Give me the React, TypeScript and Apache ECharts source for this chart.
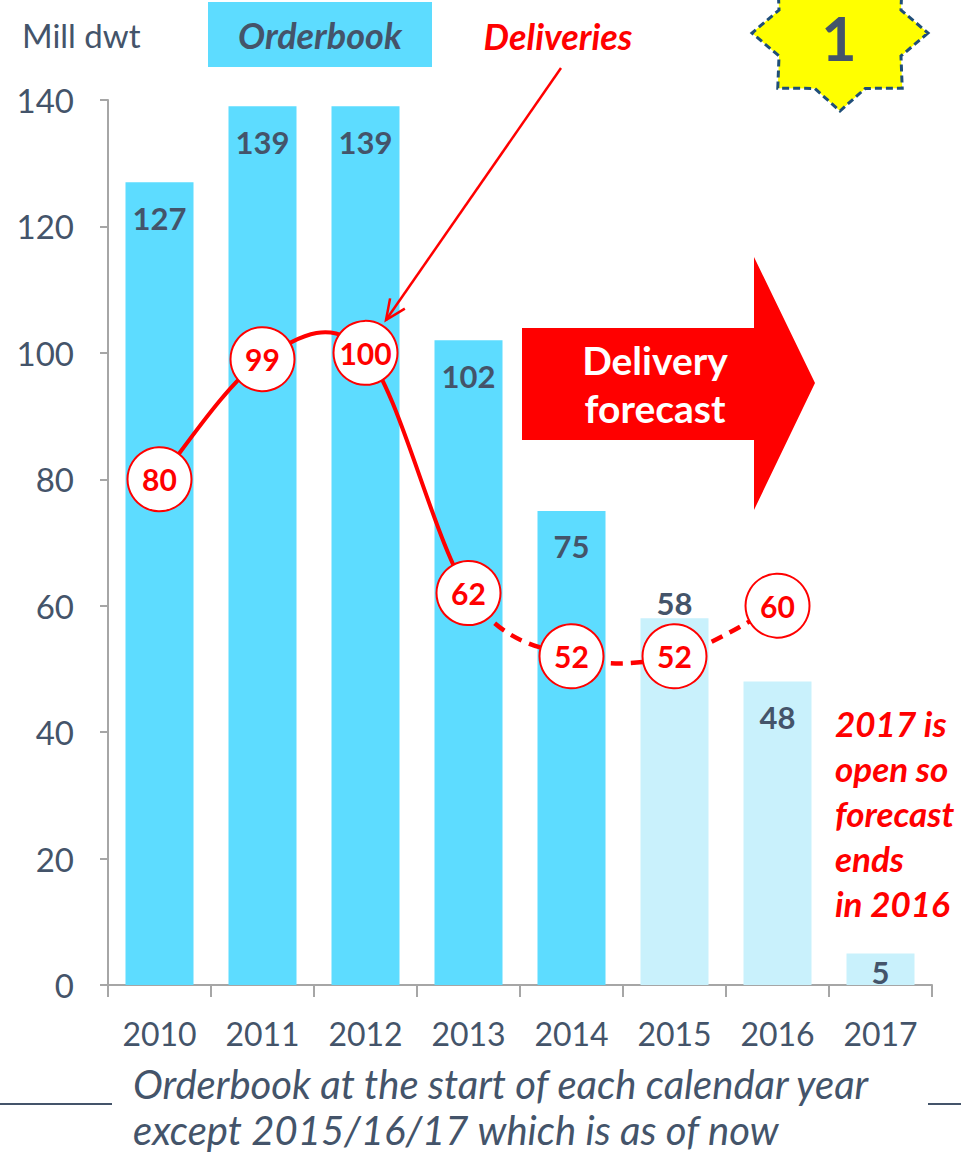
import React, { useEffect, useRef } from "react";
import * as echarts from "echarts";

const categories = ["2010", "2011", "2012", "2013", "2014", "2015", "2016", "2017"];
const orderbook = [127, 139, 139, 102, 75, 58, 48, 5];
const deliveries: (number | null)[] = [80, 99, 100, 62, 52, 52, 60, null];
const lastActualIndex = 3; // solid line up to 2013, dashed forecast after
const firstLightBarIndex = 5; // 2015/16/17 orderbook "as of now"
const yMin = 0;
const yMax = 140;
const yInterval = 20;
const noteLines = ["2017 is", "open so", "forecast", "ends", "in 2016"];
const footnoteLines = ["Orderbook at the start of each calendar year", "except 2015/16/17 which is as of now"];

const SLATE = "#44546A";
const CYAN = "#5DDCFF";
const LIGHT = "#C9F1FC";
const RED = "#FF0000";
const FONT = "Lato";

function starPoints(cx: number, cy: number, rxO: number, ryO: number, rxI: number, ryI: number) {
  const pts: number[][] = [];
  for (let i = 0; i < 16; i++) {
    const a = (Math.PI / 8) * i;
    const outer = i % 2 === 0;
    const rx = outer ? rxO : rxI;
    const ry = outer ? ryO : ryI;
    pts.push([cx + rx * Math.cos(a), cy + ry * Math.sin(a)]);
  }
  return pts;
}

function arrowHead(x1: number, y1: number, x2: number, y2: number, len: number, ang: number) {
  const t = Math.atan2(y2 - y1, x2 - x1);
  return [
    [x2 - len * Math.cos(t - ang), y2 - len * Math.sin(t - ang)],
    [x2, y2],
    [x2 - len * Math.cos(t + ang), y2 - len * Math.sin(t + ang)],
  ];
}

export default function App() {
  const ref = useRef<HTMLDivElement>(null);
  useEffect(() => {
    if (!ref.current) return;
    const chart = echarts.init(ref.current, null, { renderer: "svg", width: 961, height: 1155 });

    const barData = orderbook.map((v, i) => {
      const item: any = {
        value: v,
        itemStyle: { color: i >= firstLightBarIndex ? LIGHT : CYAN },
      };
      if (i === firstLightBarIndex) {
        item.label = { position: "top", distance: 0 };
      } else if (i === orderbook.length - 1) {
        item.label = { position: "insideTop", distance: 3 };
      }
      return item;
    });

    const validIdx = deliveries.map((v, i) => (v == null ? -1 : i)).filter((i) => i >= 0);
    const lastValid = validIdx[validIdx.length - 1];
    const lineData = validIdx.map((i) => [i, deliveries[i]]);

    const renderSegment = (params: any, api: any) => {
      const i = api.value(0) as number;
      if (i >= lastValid) return null;
      const pt = (j: number) => {
        const k = Math.max(0, Math.min(lastValid, j));
        return api.coord([k, deliveries[k]]);
      };
      const p0 = pt(i - 1);
      const p1 = pt(i);
      const p2 = pt(i + 1);
      const p3 = pt(i + 2);
      const cp1 = [p1[0] + (p2[0] - p0[0]) / 6, p1[1] + (p2[1] - p0[1]) / 6];
      const cp2 = [p2[0] - (p3[0] - p1[0]) / 6, p2[1] - (p3[1] - p1[1]) / 6];
      const dashed = i >= lastActualIndex;
      return {
        type: "bezierCurve",
        shape: {
          x1: p1[0],
          y1: p1[1],
          x2: p2[0],
          y2: p2[1],
          cpx1: cp1[0],
          cpy1: cp1[1],
          cpx2: cp2[0],
          cpy2: cp2[1],
        },
        style: {
          stroke: RED,
          lineWidth: dashed ? 4.5 : 4,
          fill: "none",
          lineDash: dashed ? [12, 8] : null,
        },
      };
    };

    const [ax1, ay1, ax2, ay2] = [561, 68, 386, 320];

    const option: any = {
      animation: false,
      textStyle: { fontFamily: FONT },
      grid: { left: 108, right: 29, top: 100, bottom: 170, containLabel: false },
      xAxis: {
        type: "category",
        data: categories,
        axisLine: { lineStyle: { color: "#A6A6A6", width: 2 } },
        axisTick: { show: true, length: 12, lineStyle: { color: "#A6A6A6", width: 2 } },
        axisLabel: { color: SLATE, fontSize: 32, fontFamily: FONT, margin: 32 },
      },
      yAxis: {
        type: "value",
        min: yMin,
        max: yMax,
        interval: yInterval,
        axisLine: { show: true, lineStyle: { color: "#A6A6A6", width: 2 } },
        axisTick: { show: true, length: 8, lineStyle: { color: "#A6A6A6", width: 2 } },
        splitLine: { show: false },
        axisLabel: { color: SLATE, fontSize: 33, fontFamily: FONT, margin: 34 },
      },
      series: [
        {
          name: "Orderbook",
          type: "bar",
          data: barData,
          barWidth: 68,
          z: 1,
          label: {
            show: true,
            position: "insideTop",
            distance: 20,
            color: SLATE,
            fontSize: 31,
            fontWeight: "bold",
            fontFamily: FONT,
          },
        },
        {
          name: "Deliveries line",
          type: "custom",
          data: lineData,
          renderItem: renderSegment,
          encode: { x: 0, y: 1 },
          z: 3,
          silent: true,
        },
        {
          name: "Deliveries",
          type: "scatter",
          data: deliveries,
          symbol: "circle",
          symbolSize: 64,
          itemStyle: { color: "#FFFFFF", borderColor: RED, borderWidth: 2, opacity: 1 },
          label: {
            show: true,
            position: "inside",
            color: RED,
            fontSize: 30,
            fontWeight: "bold",
            fontFamily: FONT,
          },
          z: 5,
        },
      ],
      graphic: [
        {
          type: "text",
          x: 22,
          y: 35,
          z: 100,
          style: { text: "Mill dwt", fill: SLATE, font: `33px ${FONT}`, textVerticalAlign: "middle" },
        },
        {
          type: "rect",
          z: 100,
          shape: { x: 208, y: 2, width: 224, height: 65 },
          style: { fill: CYAN },
        },
        {
          type: "text",
          x: 320,
          y: 35,
          z: 101,
          style: {
            text: "Orderbook",
            fill: SLATE,
            font: `italic bold 36px ${FONT}`,
            textAlign: "center",
            textVerticalAlign: "middle",
          },
        },
        {
          type: "text",
          x: 558,
          y: 36,
          z: 100,
          style: {
            text: "Deliveries",
            fill: RED,
            font: `italic bold 36px ${FONT}`,
            textAlign: "center",
            textVerticalAlign: "middle",
          },
        },
        {
          type: "line",
          z: 100,
          shape: { x1: ax1, y1: ay1, x2: ax2, y2: ay2 },
          style: { stroke: RED, lineWidth: 2.5 },
        },
        {
          type: "polyline",
          z: 100,
          shape: { points: arrowHead(ax1, ay1, ax2, ay2, 22, 0.42) },
          style: { stroke: RED, lineWidth: 2.5, fill: null },
        },
        {
          type: "polygon",
          z: 100,
          shape: { points: starPoints(840, 33, 88, 78, 66, 60) },
          style: { fill: "#FFFF00", stroke: "#1F4E79", lineWidth: 3, lineDash: [7, 4] },
        },
        {
          type: "text",
          x: 839,
          y: 37,
          z: 101,
          style: {
            text: "1",
            fill: SLATE,
            font: `bold 61px ${FONT}`,
            lineHeight: 60,
            textAlign: "center",
            textVerticalAlign: "middle",
          },
        },
        {
          type: "polygon",
          z: 100,
          shape: {
            points: [
              [522, 328],
              [754, 328],
              [754, 257],
              [815, 383],
              [754, 510],
              [754, 440],
              [522, 440],
            ],
          },
          style: { fill: RED },
        },
        {
          type: "text",
          x: 655,
          y: 384,
          z: 101,
          style: {
            text: "Delivery\nforecast",
            fill: "#FFFFFF",
            font: `bold 39px ${FONT}`,
            lineHeight: 48,
            textAlign: "center",
            textVerticalAlign: "middle",
          },
        },
        {
          type: "text",
          x: 835,
          y: 700,
          z: 100,
          style: {
            text: noteLines.join("\n"),
            fill: RED,
            font: `italic bold 35px ${FONT}`,
            lineHeight: 45,
            textAlign: "left",
            textVerticalAlign: "top",
          },
        },
        {
          type: "text",
          x: 133,
          y: 1084,
          z: 100,
          style: {
            text: footnoteLines[0],
            fill: SLATE,
            font: `italic 40px ${FONT}`,
            lineHeight: 40,
            textAlign: "left",
            textVerticalAlign: "middle",
          },
        },
        {
          type: "text",
          x: 133,
          y: 1130,
          z: 100,
          style: {
            text: footnoteLines[1],
            fill: SLATE,
            font: `italic 40px ${FONT}`,
            lineHeight: 40,
            textAlign: "left",
            textVerticalAlign: "middle",
          },
        },
        {
          type: "line",
          z: 100,
          shape: { x1: 0, y1: 1104, x2: 112, y2: 1104 },
          style: { stroke: SLATE, lineWidth: 2 },
        },
        {
          type: "line",
          z: 100,
          shape: { x1: 928, y1: 1104, x2: 961, y2: 1104 },
          style: { stroke: SLATE, lineWidth: 2 },
        },
      ],
    };
    chart.setOption(option);
    return () => chart.dispose();
  }, []);
  return (
    <div
      ref={ref}
      style={{ position: "absolute", left: 0, top: 0, width: 961, height: 1155, background: "#FFFFFF" }}
    />
  );
}
